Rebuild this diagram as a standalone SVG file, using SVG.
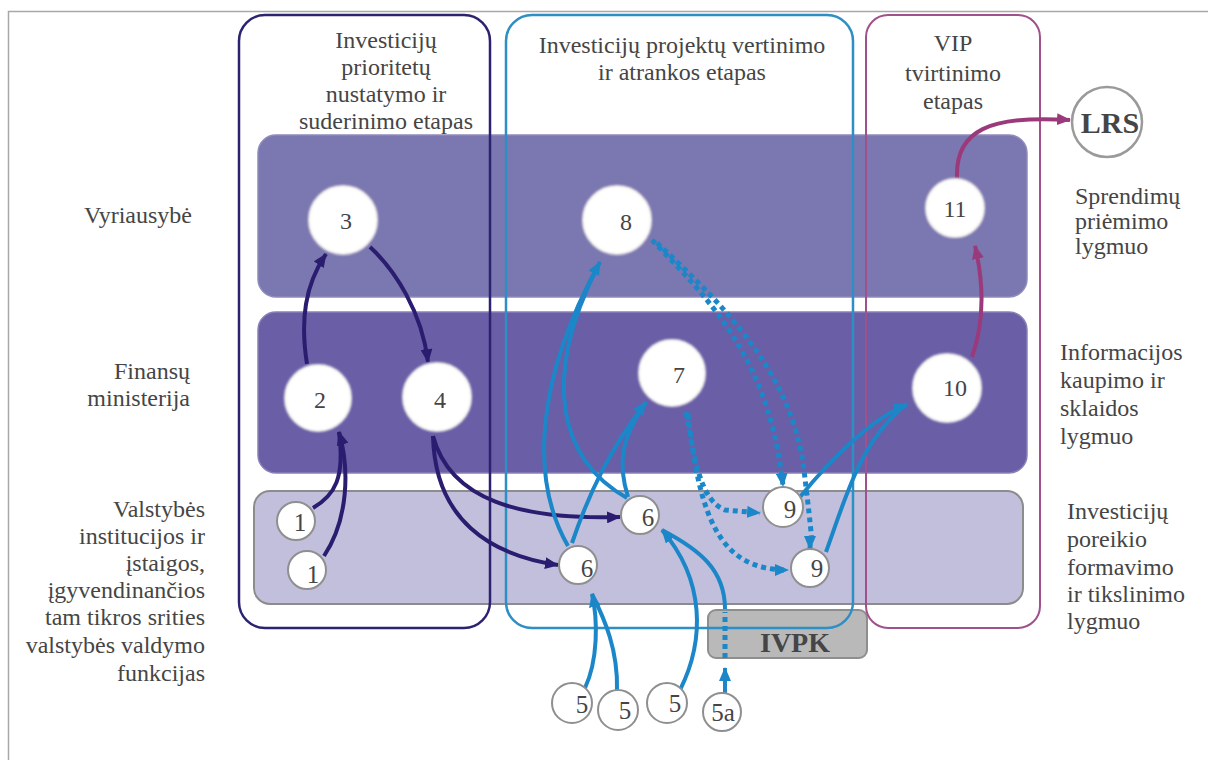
<svg xmlns="http://www.w3.org/2000/svg" width="1208" height="760" viewBox="0 0 1208 760">
  <defs>
    <style>
      text { font-family: "Liberation Serif", "Times New Roman", serif; fill: #454545; }
      .lbl { font-size: 24px; }
      .num { font-size: 24px; text-anchor: middle; }
      .snum { font-size: 25px; text-anchor: middle; }
      .big { fill: #ffffff; stroke: #f3f1ec; stroke-width: 2; filter: url(#soft); }
      .small { fill: #ffffff; stroke: #8f8f8f; stroke-width: 2; }
      .navy { fill: none; stroke: #2a1d70; stroke-width: 4; }
      .cyan { fill: none; stroke: #1b87c9; stroke-width: 4; }
      .dot { fill: none; stroke: #1b87c9; stroke-width: 5; stroke-dasharray: 5 4; }
      .mag { fill: none; stroke: #9b3a7a; stroke-width: 4; }
    </style>
    <!-- soft edge for the large step circles -->
    <filter id="soft" x="-20%" y="-20%" width="140%" height="140%">
      <feGaussianBlur stdDeviation="1.2"/>
    </filter>
    <marker id="aNavy" viewBox="0 0 14 12" refX="13" refY="6" markerWidth="14" markerHeight="12" markerUnits="userSpaceOnUse" orient="auto">
      <path d="M0,0 L14,6 L0,12 Z" fill="#2a1d70"/>
    </marker>
    <marker id="aCyan" viewBox="0 0 14 12" refX="13" refY="6" markerWidth="14" markerHeight="12" markerUnits="userSpaceOnUse" orient="auto">
      <path d="M0,0 L14,6 L0,12 Z" fill="#1b87c9"/>
    </marker>
    <marker id="aMag" viewBox="0 0 14 12" refX="13" refY="6" markerWidth="14" markerHeight="12" markerUnits="userSpaceOnUse" orient="auto">
      <path d="M0,0 L14,6 L0,12 Z" fill="#9b3a7a"/>
    </marker>
  </defs>

  <rect width="1208" height="760" fill="#ffffff"/>
  <!-- outer frame -->
  <rect x="8.5" y="11.5" width="1210" height="760" fill="none" stroke="#a8a8a8" stroke-width="1.5"/>

  <!-- level bands -->
  <g id="bands">
    <rect x="258" y="135" width="769" height="162" rx="18" fill="#7b77b0" stroke="#8f8bbb" stroke-width="1.5"/>
    <rect x="258" y="312" width="769" height="161" rx="18" fill="#6a5ea6" stroke="#8a80b8" stroke-width="1.5"/>
    <rect x="254" y="491" width="769" height="113" rx="16" fill="#c1bfdb" stroke="#8c8c8c" stroke-width="2"/>
  </g>

  <!-- IVPK box -->
  <g id="ivpk">
    <rect x="708" y="610" width="159" height="48" rx="8" fill="#b9b9b9" stroke="#8e8e8e" stroke-width="2"/>
  </g>

  <!-- stage columns -->
  <g id="stages">
    <rect x="239" y="15" width="251" height="613" rx="26" fill="none" stroke="#2b2370" stroke-width="2.5"/>
    <rect x="506" y="15" width="347" height="613" rx="26" fill="none" stroke="#2d8fc4" stroke-width="2.5"/>
    <rect x="866" y="15" width="174" height="613" rx="22" fill="none" stroke="#a0508a" stroke-width="2"/>
  </g>

  <!-- stage titles -->
  <g id="stage-titles">
    <text x="386" y="48" class="lbl" text-anchor="middle">Investicijų</text>
    <text x="386" y="75" class="lbl" text-anchor="middle">prioritetų</text>
    <text x="386" y="102" class="lbl" text-anchor="middle">nustatymo ir</text>
    <text x="386" y="129" class="lbl" text-anchor="middle">suderinimo etapas</text>
    <text x="682" y="53" class="lbl" text-anchor="middle">Investicijų projektų vertinimo</text>
    <text x="682" y="80" class="lbl" text-anchor="middle">ir atrankos etapas</text>
    <text x="953" y="51" class="lbl" text-anchor="middle">VIP</text>
    <text x="953" y="81" class="lbl" text-anchor="middle">tvirtinimo</text>
    <text x="953" y="109" class="lbl" text-anchor="middle">etapas</text>
  </g>

  <!-- actor labels (left) -->
  <g id="actor-labels">
    <text x="192" y="223" class="lbl" text-anchor="end">Vyriausybė</text>
    <text x="190" y="379" class="lbl" text-anchor="end">Finansų</text>
    <text x="190" y="406" class="lbl" text-anchor="end">ministerija</text>
    <text x="205" y="517" class="lbl" text-anchor="end">Valstybės</text>
    <text x="205" y="544" class="lbl" text-anchor="end">institucijos ir</text>
    <text x="205" y="571" class="lbl" text-anchor="end">įstaigos,</text>
    <text x="205" y="598" class="lbl" text-anchor="end">įgyvendinančios</text>
    <text x="205" y="625" class="lbl" text-anchor="end">tam tikros srities</text>
    <text x="205" y="653" class="lbl" text-anchor="end">valstybės valdymo</text>
    <text x="205" y="681" class="lbl" text-anchor="end">funkcijas</text>
  </g>

  <!-- level labels (right) -->
  <g id="level-labels">
    <text x="1075" y="204" class="lbl">Sprendimų</text>
    <text x="1075" y="229" class="lbl">priėmimo</text>
    <text x="1075" y="254" class="lbl">lygmuo</text>
    <text x="1060" y="360" class="lbl">Informacijos</text>
    <text x="1060" y="388" class="lbl">kaupimo ir</text>
    <text x="1060" y="416" class="lbl">sklaidos</text>
    <text x="1060" y="444" class="lbl">lygmuo</text>
    <text x="1067" y="519" class="lbl">Investicijų</text>
    <text x="1067" y="547" class="lbl">poreikio</text>
    <text x="1067" y="575" class="lbl">formavimo</text>
    <text x="1067" y="602" class="lbl">ir tikslinimo</text>
    <text x="1067" y="629" class="lbl">lygmuo</text>
  </g>

  <!-- connectors -->
  <g id="connectors">
    <!-- priority stage -->
    <path class="navy" d="M307,364 C300,320 305,285 326,254" marker-end="url(#aNavy)"/>
    <path class="navy" d="M370,247 C395,270 422,312 428,362" marker-end="url(#aNavy)"/>
    <path class="navy" d="M313,508 C335,495 345,478 339,432"/>
    <path class="navy" d="M324,556 C348,520 350,470 339,432" marker-end="url(#aNavy)"/>
    <path class="navy" d="M433,436 C450,500 520,520 620,517" marker-end="url(#aNavy)"/>
    <path class="navy" d="M433,436 C435,520 490,555 558,565" marker-end="url(#aNavy)"/>

    <!-- evaluation stage -->
    <path class="cyan" d="M568,546 C530,480 535,380 600,262" marker-end="url(#aCyan)"/>
    <path class="cyan" d="M627,498 C560,460 540,380 598,266"/>
    <path class="cyan" d="M572,543 C590,490 610,450 646,402" marker-end="url(#aCyan)"/>
    <path class="cyan" d="M628,497 C618,465 620,440 646,402"/>
    <path class="cyan" d="M585,688 C598,660 598,620 592,594" marker-end="url(#aCyan)"/>
    <path class="cyan" d="M617,690 C618,650 605,620 592,594"/>
    <path class="cyan" d="M680,690 C705,640 705,580 662,530" marker-end="url(#aCyan)"/>
    <path class="cyan" d="M725,609 C725,570 700,550 662,530"/>
    <path class="cyan" d="M725,693 L725,668" marker-end="url(#aCyan)"/>
    <path class="dot" d="M725,658 L725,612" stroke-width="4"/>
    <path class="cyan" d="M800,497 C830,460 870,420 907,404" marker-end="url(#aCyan)"/>
    <path class="cyan" d="M826,552 C845,500 860,440 907,404"/>

    <!-- dotted information flows -->
    <path class="dot" d="M652,240 C710,300 770,360 783,486" marker-end="url(#aCyan)"/>
    <path class="dot" d="M657,243 C718,300 792,370 804,470 S810,530 810,549" marker-end="url(#aCyan)"/>
    <path class="dot" d="M686,412 C695,460 700,500 725,510 L760,513" marker-end="url(#aCyan)"/>
    <path class="dot" d="M688,414 C700,520 720,570 788,570" marker-end="url(#aCyan)"/>

    <!-- approval stage -->
    <path class="mag" d="M972,357 C985,320 983,280 975,246" marker-end="url(#aMag)"/>
    <path class="mag" d="M957,178 C955,130 990,115 1070,120" marker-end="url(#aMag)"/>
  </g>

  <!-- nodes -->
  <g id="n3"><circle class="big" cx="343" cy="220" r="34"/><text class="num" x="346" y="229">3</text></g>
  <g id="n8"><circle class="big" cx="617" cy="220" r="34"/><text class="num" x="626" y="230">8</text></g>
  <g id="n11"><circle class="big" cx="955" cy="208" r="29"/><text class="num" x="955" y="217">11</text></g>
  <g id="n2"><circle class="big" cx="318" cy="398" r="33"/><text class="num" x="320" y="408">2</text></g>
  <g id="n4"><circle class="big" cx="437" cy="397" r="34"/><text class="num" x="440" y="408">4</text></g>
  <g id="n7"><circle class="big" cx="672" cy="373" r="33"/><text class="num" x="679" y="383">7</text></g>
  <g id="n10"><circle class="big" cx="947" cy="388" r="34"/><text class="num" x="955" y="396">10</text></g>
  <g id="lrs"><circle cx="1107" cy="122" r="35" fill="#ffffff" stroke="#9a9a9a" stroke-width="2.5"/><text x="1110" y="133" font-size="30" font-weight="bold" text-anchor="middle" fill="#3d3d3d">LRS</text></g>

  <g id="n1a"><circle class="small" cx="296" cy="521" r="19"/><text class="snum" x="300" y="531">1</text></g>
  <g id="n1b"><circle class="small" cx="307" cy="570" r="19"/><text class="snum" x="313" y="583">1</text></g>
  <g id="n6a"><circle class="small" cx="640" cy="515" r="19"/><text class="snum" x="648" y="526">6</text></g>
  <g id="n6b"><circle class="small" cx="578" cy="565" r="19"/><text class="snum" x="587" y="577">6</text></g>
  <g id="n9a"><circle class="small" cx="783" cy="507" r="20"/><text class="snum" x="790" y="518">9</text></g>
  <g id="n9b"><circle class="small" cx="810" cy="568" r="19"/><text class="snum" x="817" y="577">9</text></g>
  <g id="n5a"><circle class="small" cx="572" cy="703" r="20"/><text class="snum" x="582" y="713">5</text></g>
  <g id="n5b"><circle class="small" cx="618" cy="710" r="20"/><text class="snum" x="625" y="719">5</text></g>
  <g id="n5c"><circle class="small" cx="667" cy="703" r="20"/><text class="snum" x="675" y="712">5</text></g>
  <g id="n5d"><circle class="small" cx="722" cy="712" r="19"/><text class="snum" x="723" y="721" font-size="22">5a</text></g>

  <g id="ivpk-label"><text x="795" y="652" font-size="28" font-weight="bold" text-anchor="middle" fill="#555555">IVPK</text></g>
</svg>
